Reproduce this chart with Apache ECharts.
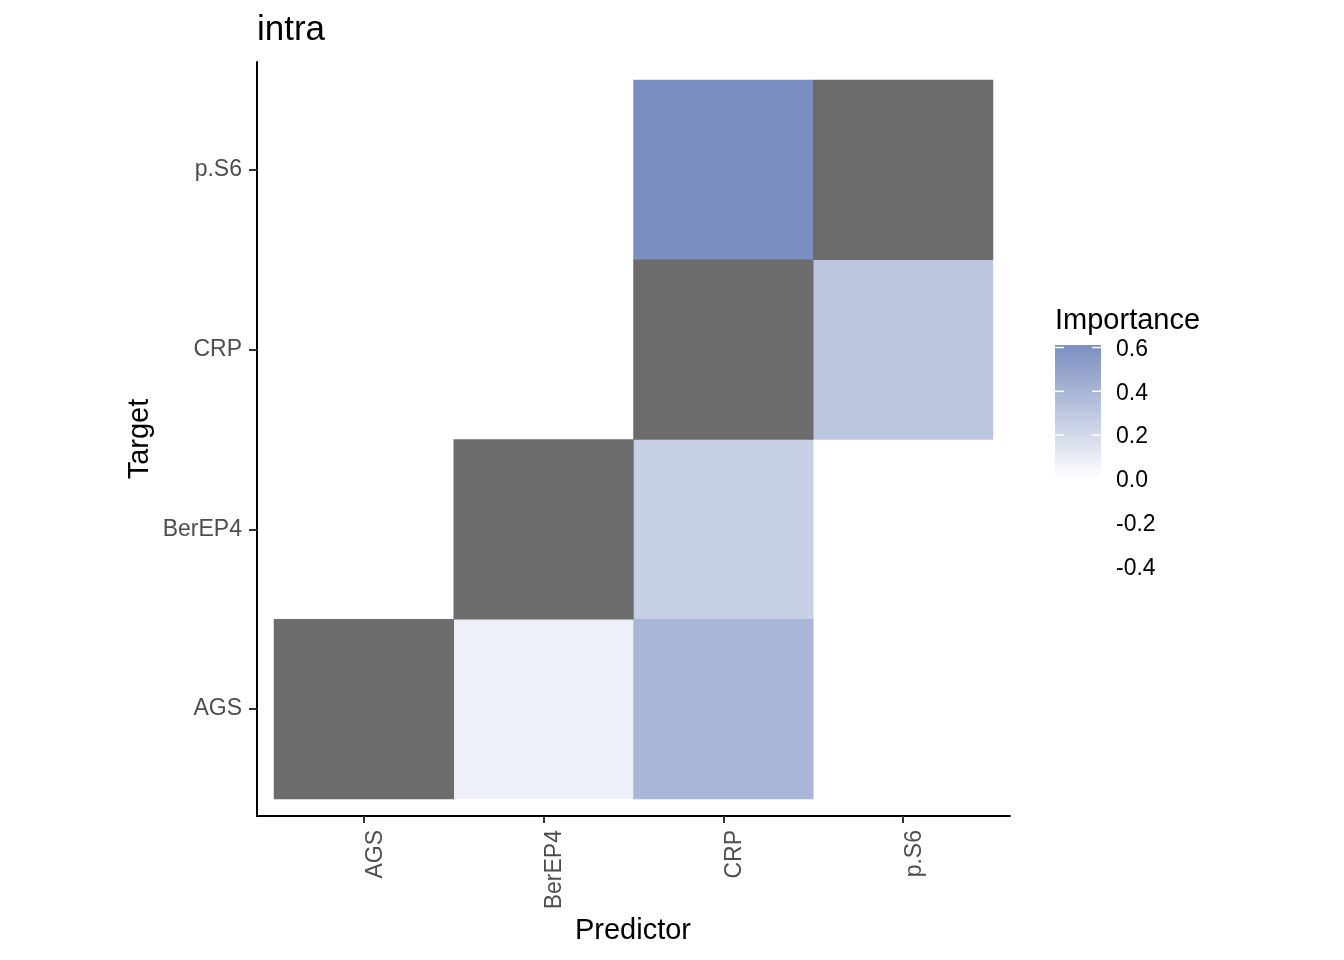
<!DOCTYPE html>
<html>
<head>
<meta charset="utf-8">
<script src="https://cdn.jsdelivr.net/npm/echarts@6/dist/echarts.min.js"></script>
<style>html,body{margin:0;padding:0;background:#fff}#chart{width:1344px;height:960px}</style>
</head>
<body>
<div id="chart"></div>
<script>
// ---- data ----
const predictors = ['AGS', 'BerEP4', 'CRP', 'p.S6'];
const targets = ['AGS', 'BerEP4', 'CRP', 'p.S6'];
const cellPredictor = ['CRP', 'p.S6', 'CRP', 'BerEP4', 'CRP'];
const cellTarget = ['p.S6', 'CRP', 'BerEP4', 'AGS', 'AGS'];
const cellImportance = [0.611, 0.306, 0.26, 0.08, 0.394];
const naPredictor = ['AGS', 'BerEP4', 'CRP', 'p.S6'];
const naTarget = ['AGS', 'BerEP4', 'CRP', 'p.S6'];
const legendTicks = [0.6, 0.4, 0.2, 0.0, -0.2, -0.4];
const scaleMin = -0.45;
const scaleMax = 0.6115;

const FONT = 'Liberation Sans, Arial, sans-serif';
const HIGH = '#7B8EC1';
const NA_COLOR = '#6C6C6C';

const heatData = cellImportance.map((v, i) => [cellPredictor[i], cellTarget[i], v]);
const naData = naPredictor.map((p, i) => [p, naTarget[i], 1]);

// legend geometry
const barLeft = 1055, barTop = 345, barW = 46, barH = 232.5;
const yOf = v => barTop + (scaleMax - v) / (scaleMax - scaleMin) * barH;
const zeroOff = (scaleMax - 0) / (scaleMax - scaleMin);

const graphics = [
  { type: 'text', left: 257, top: 13, style: { text: 'intra', font: '35px ' + FONT, fill: '#000' } },
  { type: 'text', x: 633, y: 931, style: { text: 'Predictor', font: '29px ' + FONT, fill: '#000', align: 'center', verticalAlign: 'middle' } },
  { type: 'text', x: 140, y: 439, rotation: Math.PI / 2, style: { text: 'Target', font: '29px ' + FONT, fill: '#000', align: 'center', verticalAlign: 'middle' } },
  { type: 'text', x: 1055, y: 321, style: { text: 'Importance', font: '29px ' + FONT, fill: '#000', align: 'left', verticalAlign: 'middle' } },
  { type: 'rect', shape: { x: barLeft, y: barTop, width: barW, height: barH },
    style: { fill: new echarts.graphic.LinearGradient(0, 0, 0, 1, [
      { offset: 0, color: HIGH }, { offset: zeroOff, color: '#ffffff' }, { offset: 1, color: '#ffffff' }
    ]) } }
];
legendTicks.forEach(t => {
  const y = yOf(t);
  graphics.push({ type: 'line', shape: { x1: barLeft, y1: y, x2: barLeft + 9, y2: y }, style: { stroke: '#fff', lineWidth: 1.5 } });
  graphics.push({ type: 'line', shape: { x1: barLeft + barW - 9, y1: y, x2: barLeft + barW, y2: y }, style: { stroke: '#fff', lineWidth: 1.5 } });
  graphics.push({ type: 'text', x: 1116, y: y + 2, style: { text: t.toFixed(1), font: '23px ' + FONT, fill: '#000', align: 'left', verticalAlign: 'middle' } });
});

const chart = echarts.init(document.getElementById('chart'), null, { renderer: 'canvas' });
chart.setOption({
  backgroundColor: '#fff',
  animation: false,
  grid: [
    { left: 274, top: 80, width: 719, height: 719 },
    { left: 257, top: 62, width: 753, height: 754 }
  ],
  xAxis: [
    { gridIndex: 0, type: 'category', data: predictors, position: 'bottom', offset: 17,
      axisLine: { show: false },
      axisTick: { show: true, alignWithLabel: true, length: 7, lineStyle: { color: '#333', width: 2 } },
      axisLabel: { rotate: 90, fontSize: 23, color: '#4D4D4D', fontFamily: FONT, margin: 14, verticalAlign: 'top' },
      splitLine: { show: false } },
    { gridIndex: 1, type: 'value', min: 0, max: 1,
      axisLine: { show: true, lineStyle: { color: '#000', width: 2 } },
      axisTick: { show: false }, axisLabel: { show: false }, splitLine: { show: false } }
  ],
  yAxis: [
    { gridIndex: 0, type: 'category', data: targets, offset: 17,
      axisLine: { show: false },
      axisTick: { show: true, alignWithLabel: true, length: 8, lineStyle: { color: '#333', width: 2 } },
      axisLabel: { fontSize: 23, color: '#4D4D4D', fontFamily: FONT, margin: 15, padding: [4, 0, 0, 0] },
      splitLine: { show: false } },
    { gridIndex: 1, type: 'value', min: 0, max: 1,
      axisLine: { show: true, lineStyle: { color: '#000', width: 2 } },
      axisTick: { show: false }, axisLabel: { show: false }, splitLine: { show: false } }
  ],
  visualMap: {
    show: false, type: 'continuous', seriesIndex: 0, dimension: 2,
    min: -scaleMax, max: scaleMax,
    inRange: { color: ['#ffffff', '#ffffff', HIGH] }
  },
  series: [
    { type: 'heatmap', xAxisIndex: 0, yAxisIndex: 0, data: heatData, emphasis: { disabled: true } },
    { type: 'heatmap', xAxisIndex: 0, yAxisIndex: 0, data: naData, itemStyle: { color: NA_COLOR }, emphasis: { disabled: true } }
  ],
  graphic: graphics
});
</script>
</body>
</html>
